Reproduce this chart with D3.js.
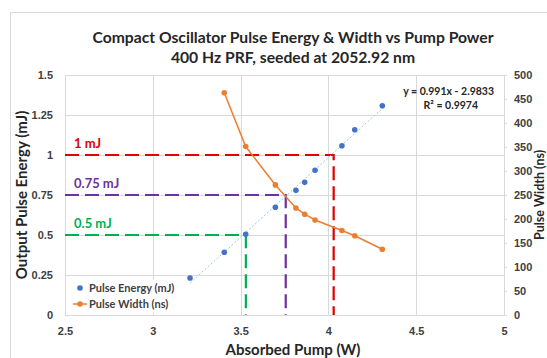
<!DOCTYPE html>
<html>
<head>
<meta charset="utf-8">
<script src="https://cdn.jsdelivr.net/npm/d3@7"></script>
<style>
  body { margin:0; background:#fff; }
  svg { font-family: Lato, "Open Sans", sans-serif; }
  .tick_lbl { font-size:11px; font-weight:bold; fill:#404040; }
  .grid { stroke:#d9d9d9; stroke-width:1; }
</style>
</head>
<body>
<svg></svg>
<script>
// data
let pump_w      = [3.212, 3.407, 3.529, 3.698, 3.815, 3.865, 3.924, 4.077, 4.150, 4.307];
let energy_mj   = [0.231, 0.392, 0.504, 0.673, 0.779, 0.829, 0.904, 1.058, 1.158, 1.308];
let width_pump  = [3.407, 3.529, 3.698, 3.815, 3.865, 3.924, 4.077, 4.150, 4.307];
let width_ns    = [463, 351, 271, 223, 210, 198, 176, 165, 137];
let fit_text    = ['y = 0.991x - 2.9833', 'R² = 0.9974'];
let x_ticks     = [2.5, 3, 3.5, 4, 4.5, 5];
let y_ticks     = [0, 0.25, 0.5, 0.75, 1, 1.25, 1.5];
let y2_ticks    = [0, 50, 100, 150, 200, 250, 300, 350, 400, 450, 500];
// guide lines : energy level, pump value, color, label
let guides = [
  [1.0, 4.03, '#e00000', '1 mJ'],
  [0.75, 3.757, '#7030a0', '0.75 mJ'],
  [0.5, 3.53, '#00b050', '0.5 mJ']
];

let W = 547, H = 358;
let svg = d3.select("svg").attr("width", W).attr("height", H);
let x_scale = d3.scaleLinear().domain([2.5, 5]).range([65, 504]);
let y_scale = d3.scaleLinear().domain([0, 1.5]).range([315, 75]);
let y2_scale = d3.scaleLinear().domain([0, 500]).range([315, 75]);

// chart border
svg.append("rect").attr("x", 10.5).attr("y", 12.5).attr("width", 560).attr("height", 360)
  .attr("fill", "none").attr("stroke", "#d9d9d9");

// title
let title = svg.append("text").attr("x", 293).attr("text-anchor", "middle")
  .attr("font-size", 15.7).attr("font-weight", "bold").attr("fill", "#262626");
title.append("tspan").attr("x", 293).attr("y", 43).text("Compact Oscillator Pulse Energy & Width vs Pump Power");
title.append("tspan").attr("x", 293).attr("y", 63).text("400 Hz PRF, seeded at 2052.92 nm");

// grid
let g = svg.append("g");
g.selectAll(".hg").data(y_ticks).enter().append("line").attr("class", "grid")
  .attr("x1", x_scale(2.5)).attr("x2", x_scale(5))
  .attr("y1", d => Math.round(y_scale(d)) + 0.5).attr("y2", d => Math.round(y_scale(d)) + 0.5);
g.selectAll(".vg").data(x_ticks).enter().append("line").attr("class", "grid")
  .attr("x1", d => Math.round(x_scale(d)) + 0.5).attr("x2", d => Math.round(x_scale(d)) + 0.5)
  .attr("y1", y_scale(1.5)).attr("y2", y_scale(0));

// axes
let ax_b = svg.append("g").attr("transform", "translate(0," + y_scale(0) + ")")
  .call(d3.axisBottom(x_scale).tickValues(x_ticks).tickSize(0).tickPadding(12).tickFormat(d3.format("")));
let ax_l = svg.append("g").attr("transform", "translate(" + x_scale(2.5) + ",0)")
  .call(d3.axisLeft(y_scale).tickValues(y_ticks).tickSize(0).tickPadding(12).tickFormat(d3.format("")));
let ax_r = svg.append("g").attr("transform", "translate(" + x_scale(5) + ",0)")
  .call(d3.axisRight(y2_scale).tickValues(y2_ticks).tickSize(3).tickPadding(7));
[ax_b, ax_l, ax_r].forEach(a => {
  a.select(".domain").remove();
  a.selectAll("text").attr("class", "tick_lbl").attr("font-family", null).attr("font-size", null);
  a.selectAll("line").attr("stroke", "#d9d9d9");
});

// axis titles
svg.append("text").attr("transform", "translate(27,195) rotate(-90)")
  .attr("text-anchor", "middle").attr("font-size", 15).attr("font-weight", "bold").attr("fill", "#262626")
  .text("Output Pulse Energy (mJ)");
svg.append("text").attr("transform", "translate(544,195) rotate(-90)")
  .attr("text-anchor", "middle").attr("font-size", 12.5).attr("font-weight", "bold").attr("fill", "#262626")
  .text("Pulse Width (ns)");
svg.append("text").attr("x", 293).attr("y", 355).attr("text-anchor", "middle")
  .attr("font-size", 15).attr("font-weight", "bold").attr("fill", "#262626")
  .text("Absorbed Pump (W)");

// guide lines
guides.forEach(d => {
  let gl = svg.append("g");
  gl.append("polyline")
    .attr("points", [[x_scale(2.5), y_scale(d[0])], [x_scale(d[1]), y_scale(d[0])], [x_scale(d[1]), y_scale(0)]].join(" "))
    .attr("fill", "none").attr("stroke", d[2]).attr("stroke-width", 2.2).attr("stroke-dasharray", "14,6");
  gl.append("text").attr("x", x_scale(2.5) + 9).attr("y", y_scale(d[0]) - 7)
    .attr("font-size", 13).attr("font-weight", "bold").attr("fill", d[2]).text(d[3]);
});

// linear trendline of the energy series
let mx = d3.mean(pump_w), my = d3.mean(energy_mj);
let slope = d3.sum(pump_w.map((v, i) => (v - mx) * (energy_mj[i] - my))) / d3.sum(pump_w.map(v => (v - mx) * (v - mx)));
let icpt = my - slope * mx;
let xr = d3.extent(pump_w);
svg.append("line")
  .attr("x1", x_scale(xr[0])).attr("y1", y_scale(slope * xr[0] + icpt))
  .attr("x2", x_scale(xr[1])).attr("y2", y_scale(slope * xr[1] + icpt))
  .attr("stroke", "#9dc3e6").attr("stroke-width", 1).attr("stroke-dasharray", "2,2");

// pulse width series
let w_pts = width_pump.map((v, i) => [x_scale(v), y2_scale(width_ns[i])]);
svg.append("path").attr("d", d3.line()(w_pts)).attr("fill", "none").attr("stroke", "#ed7d31").attr("stroke-width", 1.5);
svg.append("g").selectAll("circle").data(w_pts).enter().append("circle")
  .attr("cx", d => d[0]).attr("cy", d => d[1]).attr("r", 2.8).attr("fill", "#ed7d31");

// pulse energy series
svg.append("g").selectAll("circle").data(pump_w).enter().append("circle")
  .attr("cx", d => x_scale(d)).attr("cy", (d, i) => y_scale(energy_mj[i])).attr("r", 2.8).attr("fill", "#4472c4");

// fit equation
let ft = svg.append("text").attr("text-anchor", "end").attr("font-size", 10.5).attr("font-weight", "bold").attr("fill", "#262626");
ft.append("tspan").attr("x", 494).attr("y", 95).text(fit_text[0]);
ft.append("tspan").attr("x", 478).attr("y", 109).text(fit_text[1]);

// legend
let lg = svg.append("g").attr("transform", "translate(68,280)");
lg.append("rect").attr("width", 100).attr("height", 33).attr("fill", "#fff");
lg.append("circle").attr("cx", 12).attr("cy", 8).attr("r", 2.8).attr("fill", "#4472c4");
lg.append("line").attr("x1", 5).attr("x2", 19).attr("y1", 24).attr("y2", 24).attr("stroke", "#ed7d31").attr("stroke-width", 1.5);
lg.append("circle").attr("cx", 12).attr("cy", 24).attr("r", 2.8).attr("fill", "#ed7d31");
lg.append("text").attr("x", 21).attr("y", 12).attr("font-size", 11).attr("font-weight", "bold").attr("fill", "#404040").text("Pulse Energy (mJ)");
lg.append("text").attr("x", 21).attr("y", 28).attr("font-size", 11).attr("font-weight", "bold").attr("fill", "#404040").text("Pulse Width (ns)");
</script>
</body>
</html>
